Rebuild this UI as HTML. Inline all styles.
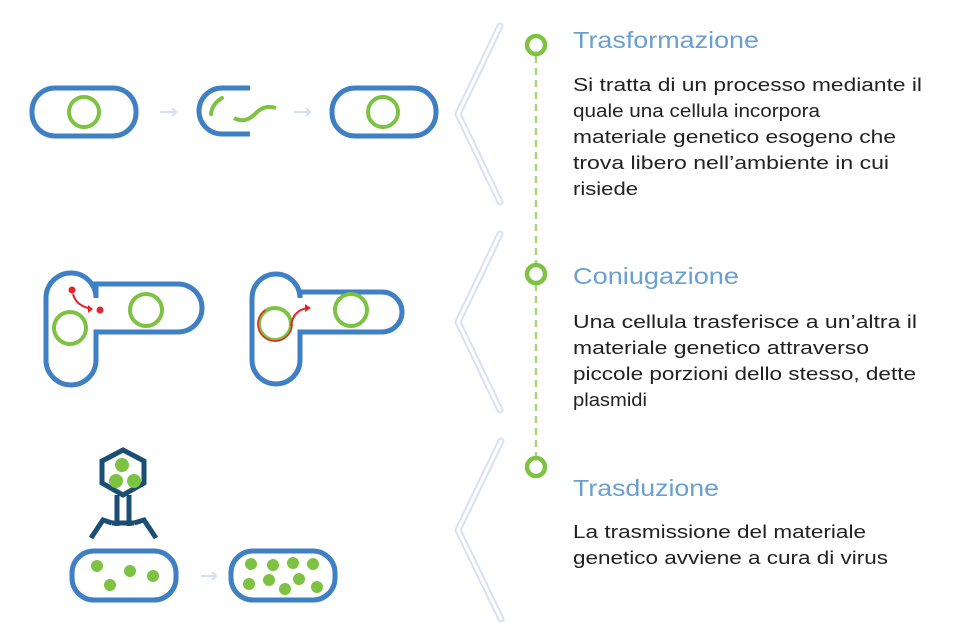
<!DOCTYPE html>
<html><head><meta charset="utf-8"><style>
html,body{margin:0;padding:0;background:#fff;}
svg{display:block}
.h{font-family:"Liberation Sans",sans-serif;font-size:23px;fill:#6a9fd1}
.b{font-family:"Liberation Sans",sans-serif;font-size:18.5px;fill:#222}
</style></head><body>
<svg width="970" height="641" viewBox="0 0 970 641" xmlns="http://www.w3.org/2000/svg">
<g fill="none" stroke="#3f7fc3" stroke-width="5">
<rect x="32" y="88" width="104" height="48" rx="23"/>
<path d="M250 88 H222 A23 23 0 0 0 222 134 H250"/>
<rect x="332" y="88" width="104" height="48" rx="23"/>
<path d="M96 292 V284 H178 A24 24 0 0 1 178 332 H96 V360 A22 22 0 0 1 46 360 V298 A22 22 0 0 1 96 298 Z"/>
<path d="M300 292 H382 A20 20 0 0 1 382 332 H300 V360 A22 22 0 0 1 252 360 V298 A22 22 0 0 1 300 298 Z"/>
<rect x="72" y="551" width="104" height="49" rx="22"/>
<rect x="231" y="551" width="104" height="49" rx="22"/>
</g>
<g fill="none" stroke="#7dc242" stroke-width="4">
<circle cx="84" cy="112" r="15"/>
<circle cx="383" cy="112" r="15"/>
<path d="M222 98 Q212 104 211 114" stroke-linecap="round"/>
<path d="M234 118 Q245 124 255 114 Q264 104 276 108"/>
<circle cx="70" cy="328" r="16"/>
<circle cx="146" cy="310" r="16"/>
<circle cx="275" cy="324" r="16"/>
<circle cx="351" cy="310" r="16"/>
</g>
<g fill="none" stroke="#d4dff0" stroke-width="2">
<path d="M160 112 H176 M172 108 L176 112 L172 116"/>
<path d="M294 112 H310 M306 108 L310 112 L306 116"/>
<path d="M201 576 H216 M212 572 L216 576 L212 580"/>
</g>
<g fill="#e3262a"><circle cx="72" cy="290" r="3.5"/><circle cx="100" cy="310" r="3.5"/></g>
<path d="M73 294 Q76 306 92 309" stroke="#e3262a" stroke-width="2" fill="none"/>
<path d="M88 305 L93 309 L88 313" fill="#e3262a"/>
<circle cx="275" cy="324" r="17" fill="none" stroke="#e3262a" stroke-width="1.5" stroke-dasharray="70 40"/>
<path d="M291 326 Q293 310 308 308" stroke="#e3262a" stroke-width="2" fill="none"/>
<path d="M305 304 L311 308 L305 312" fill="#e3262a"/>
<g fill="none" stroke="#1b4e73" stroke-width="5">
<path d="M123 450 L144 461 V483 L123 495 L102 483 V461 Z"/>
<path d="M117 495 V526 M129 495 V526 M112 523 H134 M112 523 L103 520 L91 538 M134 523 L144 520 L156 538"/>
</g>
<g fill="#7dc242">
<circle cx="122" cy="465" r="7"/><circle cx="116" cy="481" r="7"/><circle cx="134" cy="481" r="7"/>
<circle cx="97" cy="566" r="6"/><circle cx="110" cy="585" r="6"/><circle cx="130" cy="571" r="6"/><circle cx="153" cy="576" r="6"/>
<circle cx="251" cy="564" r="6"/><circle cx="273" cy="565" r="6"/><circle cx="293" cy="563" r="6"/><circle cx="313" cy="564" r="6"/>
<circle cx="249" cy="584" r="6"/><circle cx="269" cy="580" r="6"/><circle cx="285" cy="589" r="6"/><circle cx="299" cy="579" r="6"/><circle cx="317" cy="587" r="6"/>
</g>
<g fill="none" stroke="#d8e0f1" stroke-width="7" stroke-linecap="round" stroke-linejoin="round">
<path d="M500 26 L458 114 L500 202"/><path d="M500 234 L458 322 L500 410"/><path d="M501 441 L458 530 L501 619"/>
</g>
<g fill="none" stroke="#fff" stroke-width="3" stroke-linecap="round" stroke-linejoin="round">
<path d="M500 26 L458 114 L500 202"/><path d="M500 234 L458 322 L500 410"/><path d="M501 441 L458 530 L501 619"/>
</g>
<path d="M536 56 V456" stroke="#a9d57f" stroke-width="2.5" stroke-dasharray="7 5"/>
<g fill="#fff" stroke="#7dc242" stroke-width="4.5">
<circle cx="536" cy="45" r="9"/><circle cx="536" cy="274" r="9"/><circle cx="536" cy="467" r="9"/>
</g>
<text class="h" x="573" y="48" textLength="186" lengthAdjust="spacingAndGlyphs">Trasformazione</text>
<text class="b" x="573" y="91" textLength="349" lengthAdjust="spacingAndGlyphs">Si tratta di un processo mediante il</text>
<text class="b" x="573" y="117" textLength="247" lengthAdjust="spacingAndGlyphs">quale una cellula incorpora</text>
<text class="b" x="573" y="143" textLength="323" lengthAdjust="spacingAndGlyphs">materiale genetico esogeno che</text>
<text class="b" x="573" y="169" textLength="316" lengthAdjust="spacingAndGlyphs">trova libero nell’ambiente in cui</text>
<text class="b" x="573" y="195" textLength="65" lengthAdjust="spacingAndGlyphs">risiede</text>
<text class="h" x="573" y="284" textLength="166" lengthAdjust="spacingAndGlyphs">Coniugazione</text>
<text class="b" x="573" y="328" textLength="344" lengthAdjust="spacingAndGlyphs">Una cellula trasferisce a un’altra il</text>
<text class="b" x="573" y="354" textLength="296" lengthAdjust="spacingAndGlyphs">materiale genetico attraverso</text>
<text class="b" x="573" y="380" textLength="343" lengthAdjust="spacingAndGlyphs">piccole porzioni dello stesso, dette</text>
<text class="b" x="573" y="406" textLength="74" lengthAdjust="spacingAndGlyphs">plasmidi</text>
<text class="h" x="573" y="496" textLength="146" lengthAdjust="spacingAndGlyphs">Trasduzione</text>
<text class="b" x="573" y="538" textLength="293" lengthAdjust="spacingAndGlyphs">La trasmissione del materiale</text>
<text class="b" x="573" y="564" textLength="315" lengthAdjust="spacingAndGlyphs">genetico avviene a cura di virus</text>
</svg>
</body></html>
